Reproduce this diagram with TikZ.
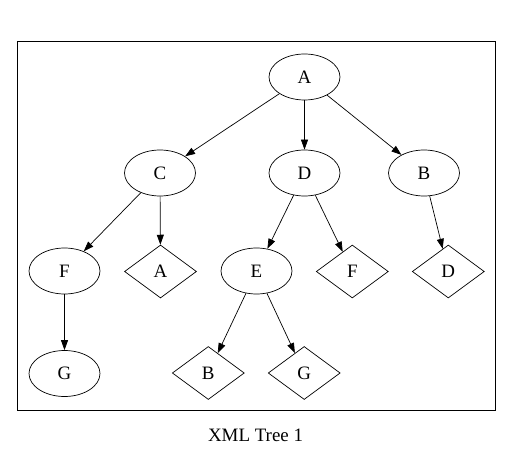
\documentclass[tikz,border=0pt]{standalone}
\usepackage{fontspec}
\setmainfont{Liberation Serif}
\usetikzlibrary{shapes.geometric,arrows.meta}
\begin{document}
\begin{tikzpicture}[x=1bp,y=-1bp,
  lbl/.style={font=\fontsize{19}{20}\selectfont},
  ell/.style={draw,ellipse,inner sep=0pt,minimum width=71bp,minimum height=46bp,line width=0.7bp,lbl},
  dia/.style={draw,diamond,inner sep=0pt,minimum width=72bp,minimum height=53bp,line width=0.7bp,lbl},
  edge/.style={line width=0.7bp,-{Triangle[length=10bp,width=7bp]}}]
\useasboundingbox (0,0) rectangle (510,454);
\draw[line width=1bp] (17,42) rectangle (495.5,410);
\node[ell] (A) at (304.5,77) {A};
\node[ell] (C) at (160,173) {C};
\node[ell] (D) at (304.5,173) {D};
\node[ell] (B) at (424,173) {B};
\node[ell] (F) at (64.5,271) {F};
\node[dia] (A2) at (160.5,271.5) {A};
\node[ell] (E) at (256.5,271) {E};
\node[dia] (F2) at (352.3,271.5) {F};
\node[dia] (D2) at (448.3,271.5) {D};
\node[ell] (G) at (64.5,373.5) {G};
\node[dia] (B2) at (208.3,373) {B};
\node[dia] (G2) at (304.2,373) {G};
\node[lbl] (cap) at (255.5,435.5) {XML Tree 1};
\draw[edge] (A) -- (C);
\draw[edge] (A) -- (D);
\draw[edge] (A) -- (B);
\draw[edge] (C) -- (F);
\draw[edge] (C) -- (A2);
\draw[edge] (D) -- (E);
\draw[edge] (D) -- (F2);
\draw[edge] (B) -- (D2);
\draw[edge] (F) -- (G);
\draw[edge] (E) -- (B2);
\draw[edge] (E) -- (G2);
\end{tikzpicture}
\end{document}
